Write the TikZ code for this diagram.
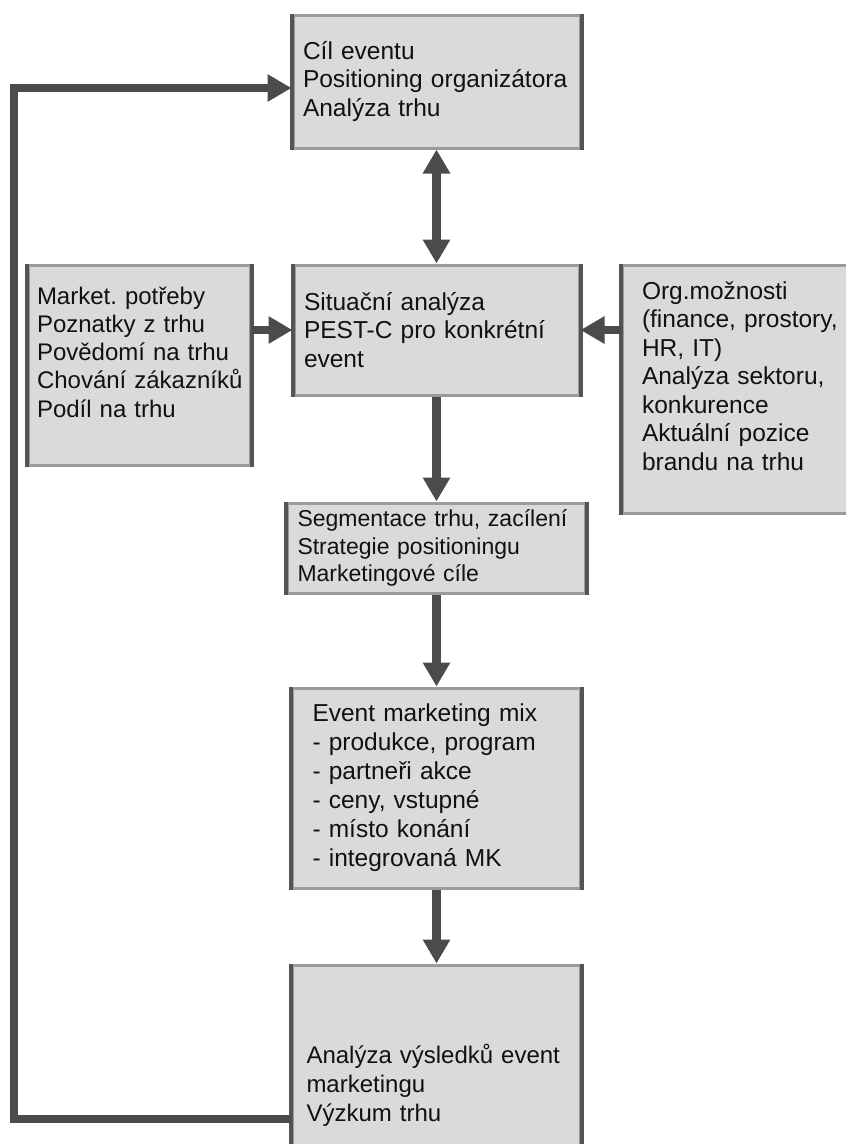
\documentclass[tikz,border=0pt]{standalone}
\usepackage{fontspec}
\setmainfont{Liberation Sans}
\usepackage{tikz}
\usetikzlibrary{arrows.meta}
\frenchspacing
\definecolor{boxfill}{HTML}{D9DADC}
\definecolor{rimgray}{HTML}{9B9B9D}
\definecolor{sidegray}{HTML}{545456}
\definecolor{arrowgray}{HTML}{4B4B4D}
\definecolor{inkgray}{HTML}{111111}
\tikzset{
    box/.style={rectangle, fill=boxfill, draw=rimgray, line width=3pt,
    	inner xsep=0pt, align=left, text=inkgray,
    	font=\fontsize{24.5}{28.5}\selectfont,
    	append after command={
    	  (\tikzlastnode.north west) edge[sidegray, line width=4pt] (\tikzlastnode.south west)
    	  (\tikzlastnode.north east) edge[sidegray, line width=4pt] (\tikzlastnode.south east)}}
}
\tikzset{
    flow/.style={draw=arrowgray, line width=8.5pt,
    	-{Triangle[length=24pt, width=26pt]}}
}
\tikzset{
    twoway/.style={flow, {Triangle[length=24pt, width=26pt]}-{Triangle[length=24pt, width=26pt]}}
}

\begin{document}
\begin{tikzpicture}[x=1pt, y=-1pt]
  \useasboundingbox (0,0) rectangle (846,1144);
  \clip (0,0) rectangle (846,1144);

  \node (cil) [box, minimum width=287pt, minimum height=133pt, text width=267pt]
    at (436.5, 81.5) {Cíl eventu\\Positioning~organizátora\\Analýza trhu};
  \node (situace) [box, minimum width=285pt, minimum height=130pt, text width=265pt]
    at (436.5, 330) {Situační analýza\\PEST-C pro konkrétní\\event};
  \node (potreby) [box, minimum width=222pt, minimum height=200pt, text width=204pt,
    font=\fontsize{24}{28.3}\selectfont]
    at (139, 365) {Market. potřeby\\Poznatky z trhu\\Povědomí na trhu\\Chování~zákazníků\\Podíl na trhu\par\vspace*{26pt}};
  \node (moznosti) [box, minimum width=248pt, minimum height=248pt, text width=208pt]
    at (746, 389) {Org.možnosti\\(finance, prostory,\\HR, IT)\\Analýza sektoru,\\konkurence\\Aktuální pozice\\brandu na trhu\par\vspace*{26pt}};
  \node (segment) [box, minimum width=298pt, minimum height=90pt, text width=278pt,
    font=\fontsize{23}{27.5}\selectfont]
    at (436.5, 548) {Segmentace~trhu,~zacílení\\Strategie positioningu\\Marketingové cíle};
  \node (mix) [box, minimum width=288pt, minimum height=200pt, text width=248pt,
    font=\fontsize{24.5}{29}\selectfont]
    at (436.5, 788) {Event marketing mix\\- produkce, program\\- partneři akce\\- ceny, vstupné\\- místo konání\\- integrovaná MK};
  \node (vysledky) [box, minimum width=288pt, minimum height=240pt, text width=260pt,
    font=\fontsize{24}{29}\selectfont]
    at (436.5, 1085) {Analýza~výsledků~event\\marketingu\\Výzkum trhu};

  \coordinate (fbtop) at (14, 88);
  \coordinate (fbbot) at (14, 1119);

  \draw[twoway] (cil) -- (situace);
  \draw[flow] (potreby.east |- situace) -- (situace.west);
  \draw[flow] (moznosti.west |- situace) -- (situace.east);
  \draw[flow] (situace) -- (segment);
  \draw[flow] (segment) -- (mix);
  \draw[flow] (mix) -- (vysledky);
  \draw[flow] (fbbot -| vysledky.west) -- (fbbot) -- (fbtop) -- (fbtop -| cil.west);
\end{tikzpicture}
\end{document}
